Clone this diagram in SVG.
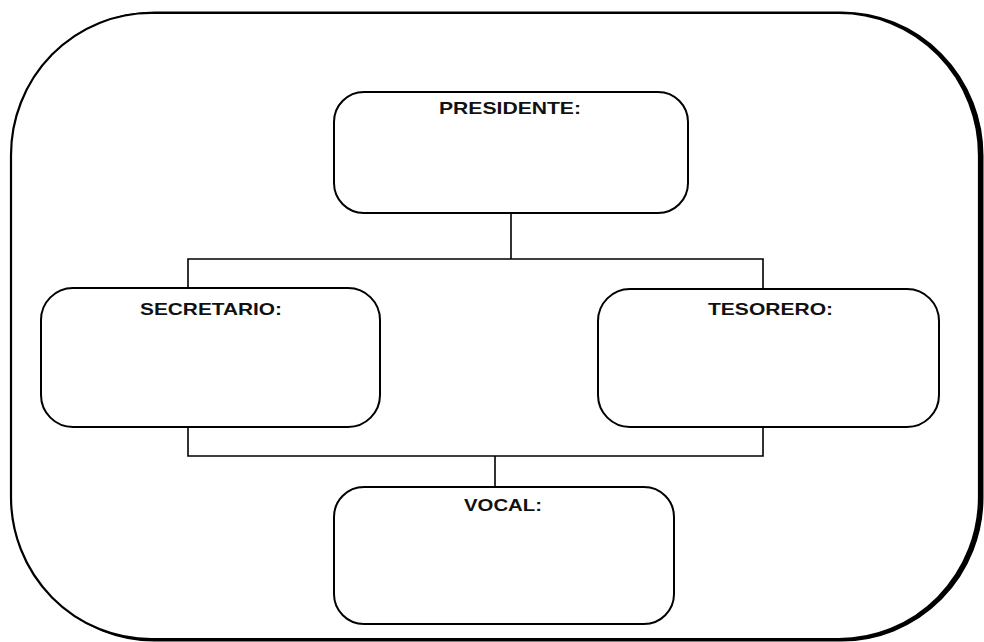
<svg xmlns="http://www.w3.org/2000/svg" width="984" height="642" viewBox="0 0 984 642">
<style>
.frame{fill:#fff;stroke:#000;stroke-width:2.2}
.shadow{fill:none;stroke:#000;stroke-width:4}
.box{fill:#fff;stroke:#000;stroke-width:2}
.conn{fill:none;stroke:#000;stroke-width:1.6}
.lbl{font-family:"Liberation Sans",Arial,sans-serif;font-weight:bold;font-size:16.5px;fill:#111}
</style>
<rect width="984" height="642" fill="#fff"/>
<rect class="shadow" x="14.5" y="13.5" width="967" height="626" rx="140" ry="142"/>
<rect class="frame" x="11" y="13" width="968" height="626" rx="140" ry="142"/>
<g id="connectors">
<path class="conn" d="M511 213 V259 M188 288 V259 H763 V289"/>
<path class="conn" d="M188 427 V456 H763 V427 M495 456 V487"/>
</g>
<g id="presidente">
<rect class="box" x="334" y="92" width="354" height="121" rx="30"/>
<text class="lbl" x="439" y="114" textLength="142" lengthAdjust="spacingAndGlyphs">PRESIDENTE:</text>
</g>
<g id="secretario">
<rect class="box" x="41" y="288" width="339" height="139" rx="32"/>
<text class="lbl" x="140" y="315" textLength="142" lengthAdjust="spacingAndGlyphs">SECRETARIO:</text>
</g>
<g id="tesorero">
<rect class="box" x="598" y="289" width="341" height="138" rx="32"/>
<text class="lbl" x="708" y="315" textLength="125" lengthAdjust="spacingAndGlyphs">TESORERO:</text>
</g>
<g id="vocal">
<rect class="box" x="334" y="487" width="340" height="137" rx="30"/>
<text class="lbl" x="464" y="511" textLength="78" lengthAdjust="spacingAndGlyphs">VOCAL:</text>
</g>
</svg>
